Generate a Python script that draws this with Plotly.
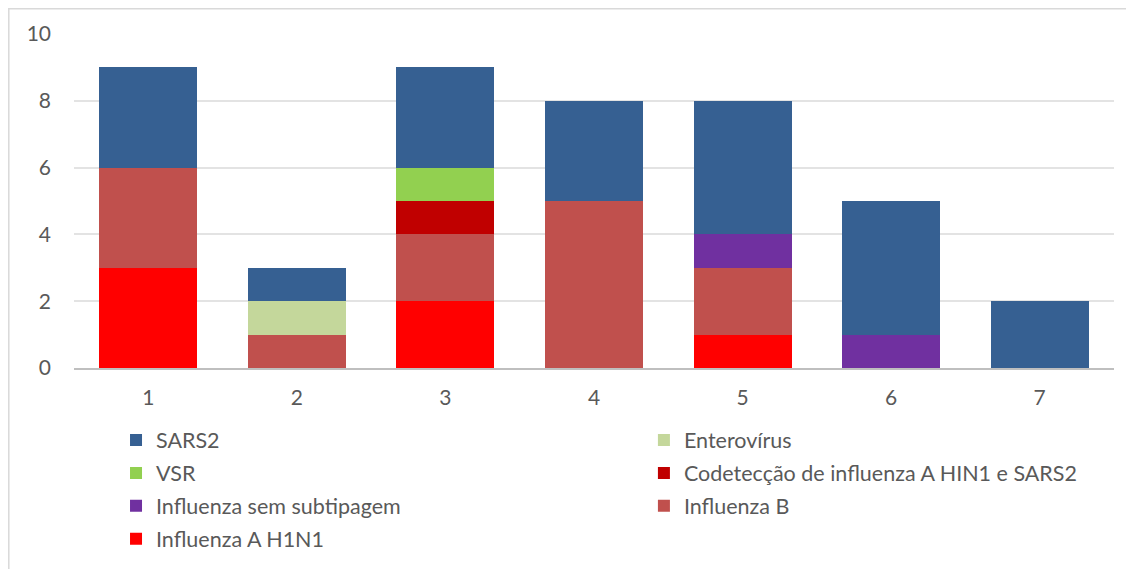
import plotly.graph_objects as go

categories = ["1", "2", "3", "4", "5", "6", "7"]

# series, bottom of the stack first
influenza_a_h1n1 = [3, 0, 2, 0, 1, 0, 0]
influenza_b = [3, 1, 2, 5, 2, 0, 0]
influenza_sem_subtipagem = [0, 0, 0, 0, 1, 1, 0]
codeteccao = [0, 0, 1, 0, 0, 0, 0]
vsr = [0, 0, 1, 0, 0, 0, 0]
enterovirus = [0, 1, 0, 0, 0, 0, 0]
sars2 = [3, 1, 3, 3, 4, 4, 2]

# (name, values, colour, legend column)
series = [
    ("Influenza A H1N1", influenza_a_h1n1, "#FF0000", "legend"),
    ("Influenza B", influenza_b, "#C0504D", "legend2"),
    ("Influenza sem subtipagem", influenza_sem_subtipagem, "#7030A0", "legend"),
    ("Codetecção de influenza A HIN1 e SARS2", codeteccao, "#C00000", "legend2"),
    ("VSR", vsr, "#92D050", "legend"),
    ("Enterovírus", enterovirus, "#C4D79B", "legend2"),
    ("SARS2", sars2, "#366092", "legend"),
]

fig = go.Figure()
for i, (name, values, color, leg) in enumerate(series):
    fig.add_trace(go.Bar(
        x=categories, y=values, name=name,
        marker=dict(color=color, line=dict(width=0)),
        legend=leg, legendgroup=name,
        legendrank=len(series) - i,  # top of the stack listed first
    ))

legend_style = dict(
    orientation="v",
    traceorder="grouped",
    yref="container",
    y=0.2665, yanchor="top",
    font=dict(size=21.5, color="#595959"),
    itemwidth=30,
    tracegroupgap=2,
    bgcolor="rgba(0,0,0,0)",
)

border = dict(color="#D9D9D9", width=1.5)

fig.update_layout(
    barmode="stack",
    bargap=0.34,
    width=1126,
    height=561,
    margin=dict(l=66, r=20, t=26, b=201, autoexpand=False),
    plot_bgcolor="white",
    paper_bgcolor="white",
    font=dict(family="Lato, Open Sans, sans-serif", size=21, color="#595959"),
    xaxis=dict(
        showgrid=False,
        showline=True, linecolor="#BFBFBF", linewidth=2,
        ticks="", tickfont=dict(size=21), ticklabelstandoff=10,
    ),
    yaxis=dict(
        range=[0, 10], dtick=2,
        showgrid=True, gridcolor="#E3E3E3", gridwidth=1.5,
        zeroline=False, ticks="", ticklabelstandoff=22,
        tickfont=dict(size=21),
    ),
    legend=dict(legend_style, x=0.0404, xanchor="left"),
    legend2=dict(legend_style, x=0.548, xanchor="left"),
    shapes=[
        dict(type="line", xref="paper", yref="paper",
             x0=-0.0635, x1=1.0192, y0=1.0756, y1=1.0756,
             line=border, layer="below"),
        dict(type="line", xref="paper", yref="paper",
             x0=-0.0627, x1=-0.0627, y0=1.0756, y1=-0.602,
             line=border, layer="below"),
    ],
)

fig.write_html("out.html")
